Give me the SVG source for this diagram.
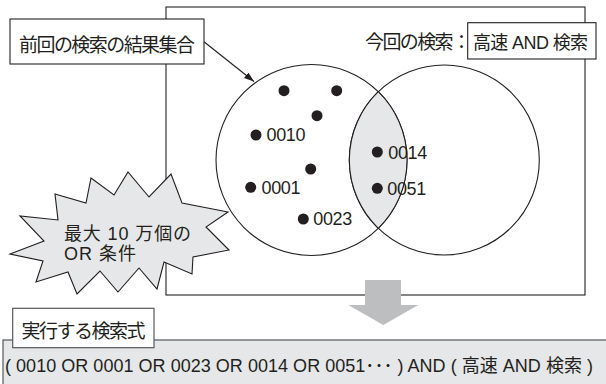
<svg xmlns="http://www.w3.org/2000/svg" width="606" height="384" viewBox="0 0 606 384">
<defs>
<style>
.t{font-family:"Liberation Sans","Noto Sans CJK JP",sans-serif;font-size:19px;fill:#231f20}
.n{font-family:"Liberation Sans","Noto Sans CJK JP",sans-serif;font-size:18px;fill:#231f20}
.ln{fill:none;stroke:#231f20;stroke-width:1.1}
.box{fill:#fff;stroke:#231f20;stroke-width:1.1}
.dot{fill:#231f20}
</style>
<marker id="ah" markerUnits="userSpaceOnUse" markerWidth="11" markerHeight="8" refX="10" refY="3.5" orient="auto">
<path d="M0,0 L10,3.5 L0,7 z" fill="#231f20"/>
</marker>
</defs>
<rect width="606" height="384" fill="#fff"/>
<g id="frame">
<rect x="166" y="7" width="419" height="288" class="box"/>
</g>
<g id="venn">
<circle cx="311.5" cy="160" r="95.5" class="ln"/>
<circle cx="444.3" cy="160" r="95" class="ln"/>
<path d="M378.3,91.7 A95,95 0 0 0 378.3,228.3 A95.5,95.5 0 0 0 378.3,91.7 z" fill="#e6e7e8" stroke="#231f20" stroke-width="1.1"/>
</g>
<g id="points">
<circle cx="284" cy="90.7" r="5.5" class="dot"/>
<circle cx="336.7" cy="90.7" r="5.5" class="dot"/>
<circle cx="317" cy="115.7" r="5.5" class="dot"/>
<circle cx="256" cy="135" r="5.5" class="dot"/>
<text x="266.5" y="141" class="n" textLength="39">0010</text>
<circle cx="310.7" cy="169" r="5.5" class="dot"/>
<circle cx="250.7" cy="187.3" r="5.5" class="dot"/>
<text x="261.5" y="193.5" class="n" textLength="39">0001</text>
<circle cx="303.3" cy="219" r="5.5" class="dot"/>
<text x="313.3" y="225.3" class="n" textLength="39">0023</text>
<circle cx="377.3" cy="152" r="5.5" class="dot"/>
<text x="388.3" y="158.5" class="n" textLength="39">0014</text>
<circle cx="377.3" cy="188.3" r="5.5" class="dot"/>
<text x="387.3" y="194.5" class="n" textLength="39">0051</text>
</g>
<g id="prev-label">
<rect x="10" y="19" width="194" height="45" class="box"/>
<text x="19" y="52" class="t" textLength="176">前回の検索の結果集合</text>
</g>
<g id="current-label">
<text x="365" y="49" class="t" textLength="106">今回の検索：</text>
<rect x="467.7" y="22.7" width="128.3" height="36.3" class="box"/>
<text x="473" y="49" class="n" textLength="115">高速 AND 検索</text>
</g>
<g id="burst">
<polygon points="10,254 44,241 20,216 58,220 55,194 86,203 91,178 114,195 128,172 149,197 171,174 182,203 228,212 206,227 229,250 193,257 192,274 164,262 157,289 139,268 118,292 100,271 77,294 68,272 36,282 43,261" fill="#e6e7e8" stroke="#231f20" stroke-width="1.1" stroke-linejoin="miter"/>
<text x="64" y="240" class="n" textLength="127">最大 10 万個の</text>
<text x="64" y="259.5" class="n" textLength="72">OR 条件</text>
</g>
<g id="connectors">
<line x1="204" y1="41.7" x2="254" y2="81.5" stroke="#231f20" stroke-width="1.1" marker-end="url(#ah)"/>
<polygon points="365,280 401,280 401,305 418.3,305 383.3,325 348.3,305 365,305" fill="#bcbec0"/>
</g>
<g id="query">
<rect x="3" y="340" width="612" height="60" fill="#e6e7e8" stroke="#58595b" stroke-width="1.2"/>
<rect x="12.7" y="308.3" width="141.3" height="39.4" fill="#fff" stroke="#58595b" stroke-width="1.2"/>
<text x="21.5" y="338" class="t" textLength="124">実行する検索式</text>
<text x="5" y="372" class="n" textLength="588">( 0010 OR 0001 OR 0023 OR 0014 OR 0051･･･ ) AND ( 高速 AND 検索 )</text>
</g>
</svg>
